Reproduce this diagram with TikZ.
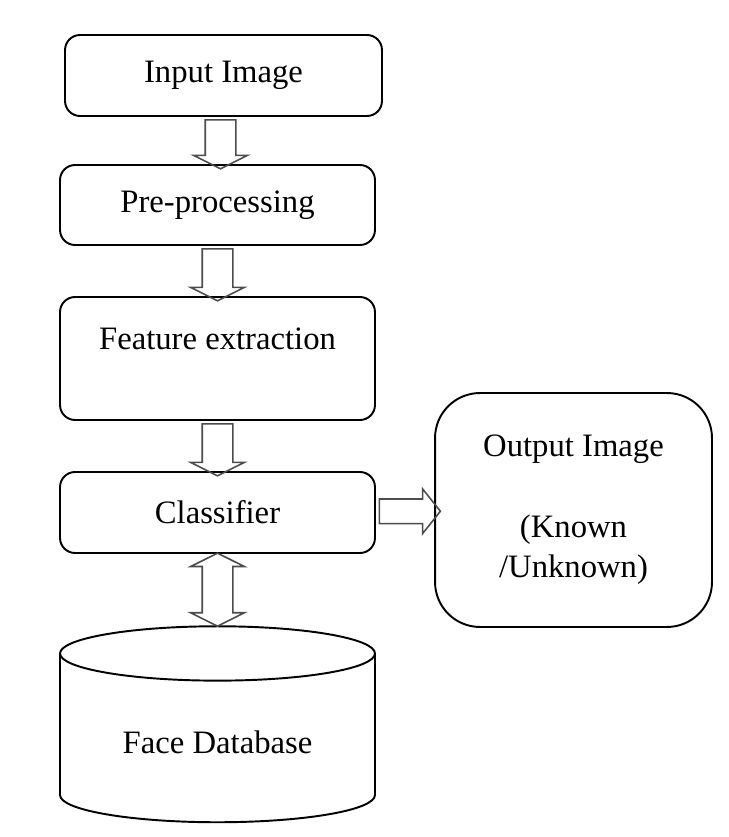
\documentclass[tikz,border=0pt]{standalone}
\usepackage{fontspec}
\setmainfont{Liberation Serif}
\usepackage{xcolor}
\usetikzlibrary{shapes.geometric, shapes.arrows, arrows.meta, positioning, calc}

\begin{document}
\begin{tikzpicture}[
  x=0.02cm, y=-0.02cm,
  every node/.style={font=\fontsize{18.6}{23}\selectfont},
  box/.style={rectangle, draw=black, line width=1.1pt, rounded corners=0.3cm, minimum width=6.3cm, minimum height=1.62cm, align=center, inner sep=0pt},
  downarr/.style={single arrow, draw=black!70, line width=0.9pt, rotate=-90, inner xsep=0pt, inner ysep=0.29cm, single arrow head extend=0.23cm, single arrow tip angle=127},
  rightarr/.style={single arrow, draw=black!70, line width=0.9pt, inner xsep=0pt, inner ysep=0.23cm, single arrow head extend=0.2cm, single arrow tip angle=103},
  botharr/.style={double arrow, draw=black!70, line width=0.9pt, rotate=-90, inner xsep=0pt, inner ysep=0.29cm, double arrow head extend=0.23cm, double arrow tip angle=127}
]
  \useasboundingbox (0,0) rectangle (728,837);

  % Blocks
  \node[box, minimum width=6.34cm] (input) at (223.5,75.5) {Input Image};
  \node[box, minimum height=1.6cm] (pre) at (217.5,205) {Pre-processing};
  \node[box, minimum height=2.46cm] (feat) at (217.5,358.5) {Feature extraction\\ \mbox{}};
  \node[box] (cls) at (217.5,512.5) {Classifier};
  \node[box, rounded corners=0.9cm, minimum width=5.54cm, minimum height=4.68cm] (out) at (573.5,510) {Output Image\\ \mbox{}\\ (Known\\ /Unknown)};
  \node[cylinder, shape border rotate=90, draw=black, line width=1.1pt, aspect=0.27, minimum width=6.3cm, minimum height=3.92cm] (db) at (217.5,742) {Face Database};

  % Arrows
  \node[downarr, minimum height=0.98cm] (a1) at ($(input.south)!0.5!(pre.north)$) {};
  \node[downarr, minimum height=1.04cm] (a2) at ($(pre.south)!0.5!(feat.north)$) {};
  \node[downarr, minimum height=1.04cm] (a3) at ($(feat.south)!0.5!(cls.north)$) {};
  \node[botharr, minimum height=1.46cm] (a4) at ($(cls.south)!0.5!(db.north)$) {};
  \node[rightarr, minimum height=1.22cm] (a5) at ($(cls.east)!0.5!(out.west)$) {};
\end{tikzpicture}
\end{document}
